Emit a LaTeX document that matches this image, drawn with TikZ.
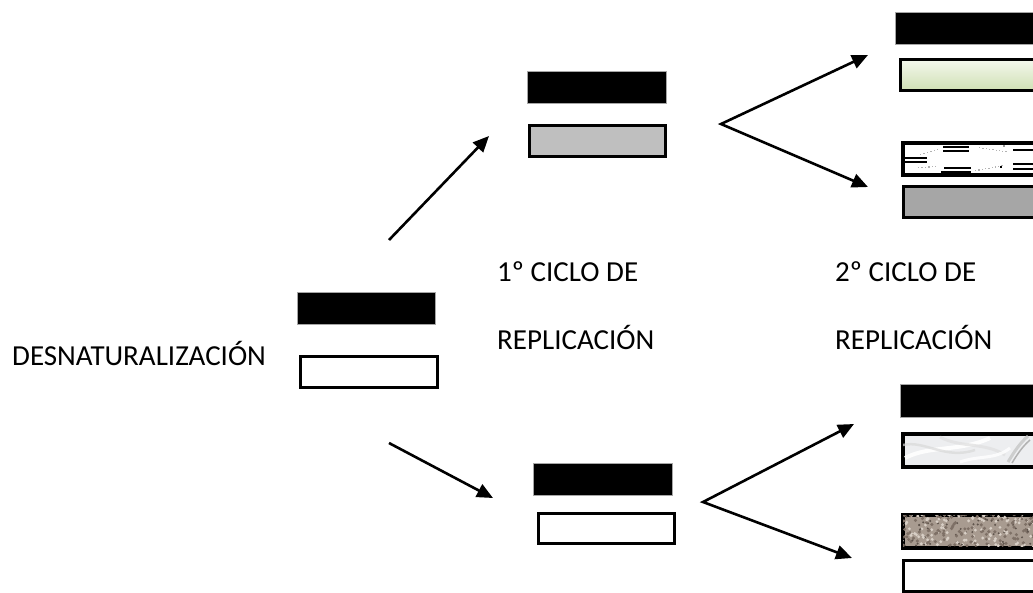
\documentclass[tikz,border=0pt]{standalone}
\usepackage{fontspec}
\setmainfont{Carlito}
\usetikzlibrary{arrows.meta}
\definecolor{midgray}{HTML}{BFBFBF}
\definecolor{darkgray}{HTML}{A6A6A6}
\definecolor{greentop}{HTML}{F4F8EE}
\definecolor{greenbot}{HTML}{D0E0B4}
\definecolor{marblebase}{HTML}{EDEEF0}
\definecolor{granA}{HTML}{A89B90}
\definecolor{granB}{HTML}{7E7066}
\definecolor{granC}{HTML}{D8CFC6}
\definecolor{granD}{HTML}{5E534B}
\begin{document}
\begin{tikzpicture}[x=1pt,y=-1pt,
  solidstrand/.style={fill=black, draw=gray!70, line width=0.8pt, inner sep=0pt,
    anchor=north west, minimum height=32pt},
  openstrand/.style={draw=black, line width=2.4pt, inner sep=0pt,
    anchor=north west, minimum height=31pt},
  rim/.style={draw=black, line width=2.4pt},
  arr/.style={line width=2.6pt, -{Triangle[length=16pt,width=14pt]}},
  fork/.style={line width=2.6pt, miter limit=20,
    {Triangle[length=16pt,width=14pt]}-{Triangle[length=16pt,width=14pt]}},
  label/.style={font=\fontsize{29}{35}\selectfont, anchor=base west, inner sep=0pt}]
\useasboundingbox (0,0) rectangle (1033,592);
\clip (0,0) rectangle (1033,592);

% parent molecule
\node[solidstrand, minimum width=138pt] (p1) at (297,292) {};
\node[openstrand, fill=white, minimum width=137pt] (p2) at (299.1,355.1) {};
\node[label] (t0) at (12,365) {DESNATURALIZACIÓN};

% first replication cycle
\node[solidstrand, minimum width=139pt] (a1) at (527,71) {};
\node[openstrand, fill=midgray, minimum width=136pt] (a2) at (528.1,124.1) {};
\node[solidstrand, minimum width=139pt] (b1) at (533,463) {};
\node[openstrand, fill=white, minimum width=136pt, minimum height=30pt] (b2) at (537.1,512.1) {};
\node[label] (t1) at (497,281) {1º CICLO DE};
\node[label] (t2) at (497,349) {REPLICACIÓN};

% second replication cycle
\node[solidstrand, minimum width=150pt] (c1) at (895,12) {};
\node[openstrand, minimum width=150pt, top color=greentop, bottom color=greenbot] (c2) at (899.1,58.1) {};
\node[openstrand, fill=white, minimum width=150pt] (c3) at (902.1,142.1) {};
\node[openstrand, fill=darkgray, minimum width=150pt] (c4) at (902.1,185.1) {};

\node[solidstrand, minimum width=150pt, minimum height=33pt] (d1) at (900,384) {};
\node[openstrand, fill=marblebase, minimum width=150pt, minimum height=32pt] (d2) at (902.1,433.1) {};
\node[openstrand, fill=granA, minimum width=150pt, minimum height=32pt] (d3) at (902.1,514.1) {};
\node[openstrand, fill=white, minimum width=150pt] (d4) at (902.1,559.1) {};
\node[label] (t3) at (835,281) {2º CICLO DE};
\node[label] (t4) at (835,349) {REPLICACIÓN};

% dashed-stripe texture
\begin{scope}
  \clip (c3.north west) rectangle (c3.south east);
  \fill (943,146) rectangle (969,148);
  \fill (943,150) rectangle (969,152);
  \fill (902,157) rectangle (927,159);
  \fill (902,161) rectangle (927,163);
  \fill (944,167) rectangle (971,169);
  \fill (941,171) rectangle (971,173);
  \fill (1013,142) rectangle (1040,145);
  \fill (1013,149) rectangle (1040,151);
  \fill (1013,163) rectangle (1040,165);
  \fill (1013,168) rectangle (1040,170);
  \fill[gray!80] (1003,145) rectangle (1005,146.5);
  \fill[black] (1000,166) rectangle (1002,167.5);
  \foreach \k in {0,...,5} {
    \fill[gray!60] (920+3.4*\k,154-1*\k) rectangle ++(1.3,1.1);
    \fill[gray!60] (918+3.4*\k,167-0.2*\k) rectangle ++(1.3,1.1);
  }
  \foreach \k in {0,...,8} {
    \fill[gray!60] (979+3.3*\k,147+0.5*\k) rectangle ++(1.3,1.1);
    \fill[gray!60] (975+3.3*\k,170-0.6*\k) rectangle ++(1.3,1.1);
  }
\end{scope}
\draw[rim] (c3.north west) rectangle (c3.south east);

% marble texture
\begin{scope}
  \clip (d2.north west) rectangle (d2.south east);
  \draw[white, line width=4pt, opacity=0.9] (905,458) .. controls (930,445) and (960,452) .. (990,438);
  \draw[gray!30, line width=2.5pt, opacity=0.7] (903,445) .. controls (925,440) and (945,460) .. (975,450);
  \draw[gray!25, line width=3pt, opacity=0.7] (940,437) .. controls (960,448) and (985,442) .. (1005,455);
  \draw[gray!45, line width=3pt, opacity=0.8] (1008,462) .. controls (1014,452) and (1020,443) .. (1028,436);
  \draw[gray!60, line width=1.5pt] (1012,463) .. controls (1018,453) and (1023,446) .. (1030,440);
  \draw[white, line width=3pt, opacity=0.8] (960,462) .. controls (980,455) and (995,460) .. (1010,448);
\end{scope}
\draw[rim] (d2.north west) rectangle (d2.south east);

% granite texture
\begin{scope}
  \clip (d3.north west) rectangle (d3.south east);
  \pgfmathsetseed{4242}
  \foreach \k in {1,...,300} {
    \pgfmathsetmacro\px{900+135*rnd}
    \pgfmathsetmacro\py{513+34*rnd}
    \pgfmathsetmacro\pc{rnd}
    \ifdim\pc pt<0.35pt
      \fill[granB] (\px,\py) circle (1.7);
    \else\ifdim\pc pt<0.75pt
      \fill[granC] (\px,\py) circle (1.6);
    \else
      \fill[granD] (\px,\py) circle (1.1);
    \fi\fi
  }
\end{scope}
\draw[rim] (d3.north west) rectangle (d3.south east);

% arrows
\coordinate (s1) at (389,240);
\coordinate (e1) at (489,136);
\coordinate (s2) at (389,443);
\coordinate (e2) at (493,498);
\coordinate (v1) at (721,124);
\coordinate (u1) at (868,55);
\coordinate (w1) at (868,187);
\coordinate (v2) at (703,502);
\coordinate (u2) at (854,424);
\coordinate (w2) at (852,558);
\draw[arr] (s1) -- (e1);
\draw[arr] (s2) -- (e2);
\draw[fork] (u1) -- (v1) -- (w1);
\draw[fork] (u2) -- (v2) -- (w2);
\end{tikzpicture}
\end{document}
